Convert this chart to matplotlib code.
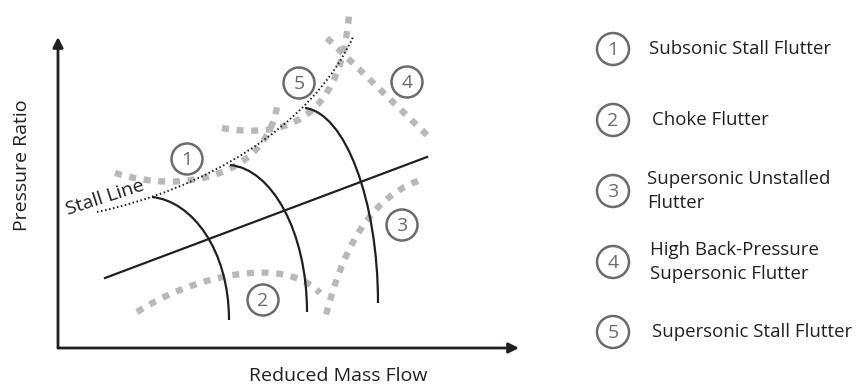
import matplotlib
matplotlib.use('agg')
import matplotlib.pyplot as plt
from matplotlib.path import Path
from matplotlib.patches import PathPatch, Circle

plt.rcParams['font.family'] = ['Open Sans', 'DejaVu Sans']

# schematic coordinates (pixels of the 858x385 canvas, y downward)
axis_origin = (58, 348)
axis_x_tip = (519, 348)
axis_y_tip = (58, 37)

operating_line = [(105, 278), (427, 157)]

# cubic bezier control points: start, c1, c2, end
stall_line = [(97, 212), (200, 190), (310, 130), (353, 37)]
speed_lines = [
    [(152, 197), (192, 201), (229, 250), (229, 320)],
    [(230, 165), (272, 169), (307, 232), (307, 312)],
    [(305, 108), (345, 113), (378, 200), (378, 303)],
]

# gray dashed flutter boundaries
boundaries = [
    [(115, 173), (185, 195), (265, 175), (277, 107)],   # 1
    [(137, 312), (195, 275), (285, 255), (320, 293)],   # 2
    [(418, 181), (365, 200), (340, 260), (326, 315)],   # 3
    [(327, 38), (362, 72), (396, 105), (431, 139)],     # 4
    [(222, 128), (280, 138), (340, 125), (349, 15)],    # 5
]

region_ids = ['1', '2', '3', '4', '5']
region_xy = [(187, 159), (263, 300), (402, 225), (407, 82), (299, 83)]

legend_labels = [
    'Subsonic Stall Flutter',
    'Choke Flutter',
    'Supersonic Unstalled\nFlutter',
    'High Back-Pressure\nSupersonic Flutter',
    'Supersonic Stall Flutter',
]
legend_y = [49, 120, 191, 262, 332]
legend_text_x = [649, 652, 647, 650, 652]

ink = '#231f20'
circ = '#6b6b6b'
dash_gray = '#b8b8b8'
fs = 14
fs_leg = 13.4

fig = plt.figure(figsize=(8.58, 3.85), dpi=100)
ax = fig.add_axes([0, 0, 1, 1])
ax.set_xlim(0, 858)
ax.set_ylim(385, 0)
ax.axis('off')


def bezier(pts, **kw):
    codes = [Path.MOVETO, Path.CURVE4, Path.CURVE4, Path.CURVE4]
    ax.add_patch(PathPatch(Path(pts, codes), fill=False, **kw))


for b in boundaries:
    bezier(b, edgecolor=dash_gray, lw=4.6, linestyle=(0, (1.1, 1.2)), capstyle='butt')

for s in speed_lines:
    bezier(s, edgecolor=ink, lw=1.6)
bezier(stall_line, edgecolor=ink, lw=1.4, linestyle=(0, (0.8, 1.3)))

xs, ys = zip(*operating_line)
ax.plot(xs, ys, color=ink, lw=1.6)

# axes arrows
for tip in (axis_x_tip, axis_y_tip):
    ax.annotate('', xy=tip, xytext=axis_origin,
                arrowprops=dict(arrowstyle='-|>', lw=2, color=ink,
                                mutation_scale=15, shrinkA=0, shrinkB=0))

ax.text(22, 165, 'Pressure Ratio', rotation=90, ha='center', va='center',
        fontsize=fs, color=ink)
ax.text(338, 376, 'Reduced Mass Flow', ha='center', va='center',
        fontsize=fs, color=ink)
ax.text(68, 215, 'Stall Line', rotation=18, rotation_mode='anchor',
        ha='left', va='baseline', fontsize=fs, color=ink)

for rid, (cx, cy) in zip(region_ids, region_xy):
    ax.add_patch(Circle((cx, cy), 15.5, fill=False, edgecolor=circ, lw=1.8))
    ax.text(cx, cy + 1, rid, ha='center', va='center', fontsize=fs, color=circ)

for rid, y, tx, lab in zip(region_ids, legend_y, legend_text_x, legend_labels):
    ax.add_patch(Circle((613, y), 16, fill=False, edgecolor=circ, lw=1.8))
    ax.text(613, y + 1, rid, ha='center', va='center', fontsize=fs, color=circ)
    ax.text(tx, y, lab, ha='left', va='center', fontsize=fs_leg, color=ink,
            linespacing=1.45)

fig.savefig('out.png', dpi=100)
